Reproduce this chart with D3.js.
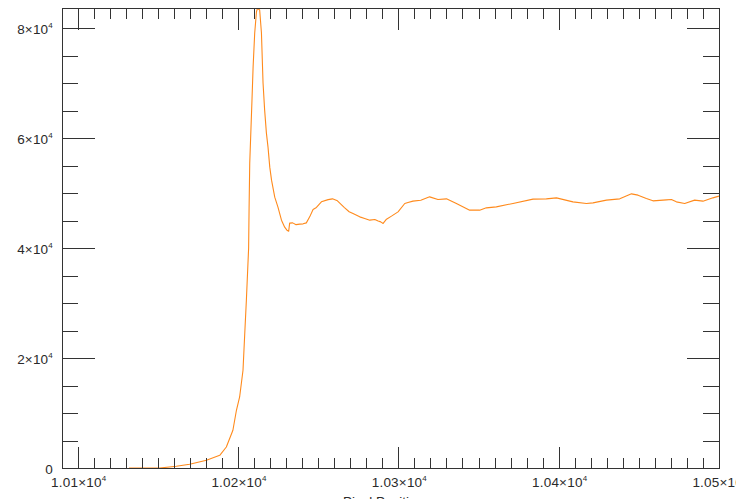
<!DOCTYPE html>
<html>
<head>
<meta charset="utf-8">
<script src="https://cdn.jsdelivr.net/npm/d3@7"></script>
<style>
  html, body { margin: 0; padding: 0; background: #fff; }
  svg { display: block; }
  text { font-family: "Liberation Sans", Arial, Helvetica, sans-serif; fill: #2a2a2a; }
</style>
</head>
<body>
<svg id="chart" width="736" height="499"></svg>
<script>
// Spectrum profile: position vs. intensity
const positions = [
  10132.0, 10151.1, 10161.5, 10169.8, 10180.3, 10188.6, 10192.7, 10196.8, 10199.0, 10201.0,
  10203.1, 10204.2, 10205.2, 10206.6, 10206.9, 10207.3, 10208.7, 10209.4, 10210.4, 10211.5,
  10212.1, 10213.5, 10214.6, 10215.6, 10216.6, 10217.7, 10218.7, 10219.8, 10220.9, 10222.9,
  10224.9, 10227.1, 10229.1, 10230.5, 10231.6, 10232.2, 10234.1, 10236.2, 10238.5, 10240.6,
  10242.6, 10244.7, 10246.8, 10248.9, 10252.0, 10256.2, 10258.9, 10262.0, 10266.2, 10269.3,
  10271.7, 10275.9, 10279.0, 10282.2, 10285.3, 10287.4, 10289.0, 10290.5, 10292.6, 10295.7,
  10299.8, 10304.0, 10306.0, 10309.1, 10314.0, 10319.5, 10324.7, 10330.0, 10336.2, 10344.5,
  10350.7, 10354.9, 10361.1, 10371.5, 10384.0, 10392.3, 10398.6, 10408.9, 10417.3, 10421.4,
  10429.8, 10438.1, 10445.4, 10449.5, 10454.7, 10458.8, 10467.2, 10470.3, 10473.4, 10478.6,
  10484.8, 10490.0, 10496.2, 10500.0
];
const intensities = [
  0, 0, 309, 673, 1401, 2311, 3821, 6860, 10499, 12919,
  17777, 24509, 30513, 39975, 47435, 55441, 66903, 72908, 79094, 82969,
  83600, 83297, 79094, 69997, 65084, 60900, 58352, 54713, 52347, 49254,
  47435, 45069, 43796, 43250, 43070, 44524, 44578, 44250, 44342, 44400,
  44578, 45670, 47016, 47380, 48399, 48800, 48945, 48580, 47400, 46600,
  46288, 45670, 45380, 45069, 45190, 44900, 44760, 44469, 45250, 45800,
  46579, 48100, 48290, 48526, 48700, 49308, 48836, 48945, 48108, 46889,
  46889, 47307, 47489, 48108, 48890, 48945, 49127, 48399, 48108, 48217,
  48709, 48945, 49854, 49618, 49017, 48581, 48763, 48836, 48399, 48108,
  48709, 48526, 49127, 49436
];

const xMajor = [10100, 10200, 10300, 10400, 10500];
const xMinorStep = 10;
const yMajor = [0, 20000, 40000, 60000, 80000];
const yMinorStep = 5000;
const xDomain = [10090.2, 10500];
const yDomain = [0, 83650];

const plot = { left: 62, right: 719, top: 8, bottom: 468 };
const svg = d3.select("#chart");

const x = d3.scaleLinear().domain(xDomain).range([plot.left, plot.right]);
const y = d3.scaleLinear().domain(yDomain).range([plot.bottom, plot.top]);

const axisColor = "#333";

// Data line, clipped to the frame
svg.append("clipPath").attr("id", "plotClip")
  .append("rect")
  .attr("x", plot.left).attr("y", plot.top)
  .attr("width", plot.right - plot.left).attr("height", plot.bottom - plot.top);

const series = positions.map((p, i) => [p, intensities[i]]);
svg.append("path")
  .datum(series)
  .attr("clip-path", "url(#plotClip)")
  .attr("fill", "none")
  .attr("stroke", "#ff8a1c")
  .attr("stroke-width", 1.1)
  .attr("stroke-linejoin", "round")
  .attr("d", d3.line().x(d => x(d[0])).y(d => y(d[1])));

// Frame
svg.append("rect")
  .attr("x", plot.left + 0.5).attr("y", plot.top + 0.5)
  .attr("width", plot.right - plot.left).attr("height", plot.bottom - plot.top)
  .attr("fill", "none").attr("stroke", axisColor).attr("stroke-width", 1);

// Tick marks on all four sides, pointing into the plot
const isMajorX = v => xMajor.some(m => Math.abs(m - v) < 1e-6);
const isMajorY = v => yMajor.some(m => Math.abs(m - v) < 1e-6);
const xTicks = d3.range(Math.ceil(xDomain[0] / xMinorStep) * xMinorStep, xDomain[1] + 0.01, xMinorStep);
const yTicks = d3.range(0, yDomain[1], yMinorStep);

const ticks = svg.append("g").attr("stroke", axisColor).attr("stroke-width", 1);
xTicks.forEach(v => {
  const px = Math.round(x(v)) + 0.5;
  const major = isMajorX(v);
  ticks.append("line").attr("x1", px).attr("x2", px)
    .attr("y1", plot.bottom).attr("y2", plot.bottom - (major ? 21 : 10));
  ticks.append("line").attr("x1", px).attr("x2", px)
    .attr("y1", plot.top).attr("y2", plot.top + (major ? 22 : 11));
});
yTicks.forEach(v => {
  const py = Math.round(y(v)) + 0.5;
  const major = isMajorY(v);
  ticks.append("line").attr("y1", py).attr("y2", py)
    .attr("x1", plot.left).attr("x2", plot.left + (major ? 33 : 16));
  ticks.append("line").attr("y1", py).attr("y2", py)
    .attr("x1", plot.right).attr("x2", plot.right - (major ? 32 : 16));
});

// Labels in the form m×10^e
function sciParts(v) {
  if (v === 0) return null;
  const e = Math.floor(Math.log10(Math.abs(v)));
  const m = v / Math.pow(10, e);
  return { m: +m.toFixed(2) + "", e: e };
}
function writeLabel(sel, v) {
  const p = sciParts(v);
  if (!p) { sel.text("0"); return; }
  sel.append("tspan").text(p.m + "×10");
  sel.append("tspan").attr("dy", -6).attr("font-size", 8).text(p.e);
}

const labelSize = 13.5;
xMajor.forEach(v => {
  const t = svg.append("text")
    .attr("x", x(v) + 1).attr("y", 487)
    .attr("text-anchor", "middle").attr("font-size", labelSize)
    .attr("letter-spacing", 0.2);
  writeLabel(t, v);
});
yMajor.forEach(v => {
  const t = svg.append("text")
    .attr("x", 53).attr("y", y(v) + 6)
    .attr("text-anchor", "end").attr("font-size", labelSize)
    .attr("letter-spacing", 0.2);
  writeLabel(t, v);
});

// Axis title (below the tick labels)
svg.append("text")
  .attr("x", (plot.left + plot.right) / 2 - 7).attr("y", 506)
  .attr("text-anchor", "middle").attr("font-size", labelSize)
  .text("Pixel Position");
</script>
</body>
</html>
